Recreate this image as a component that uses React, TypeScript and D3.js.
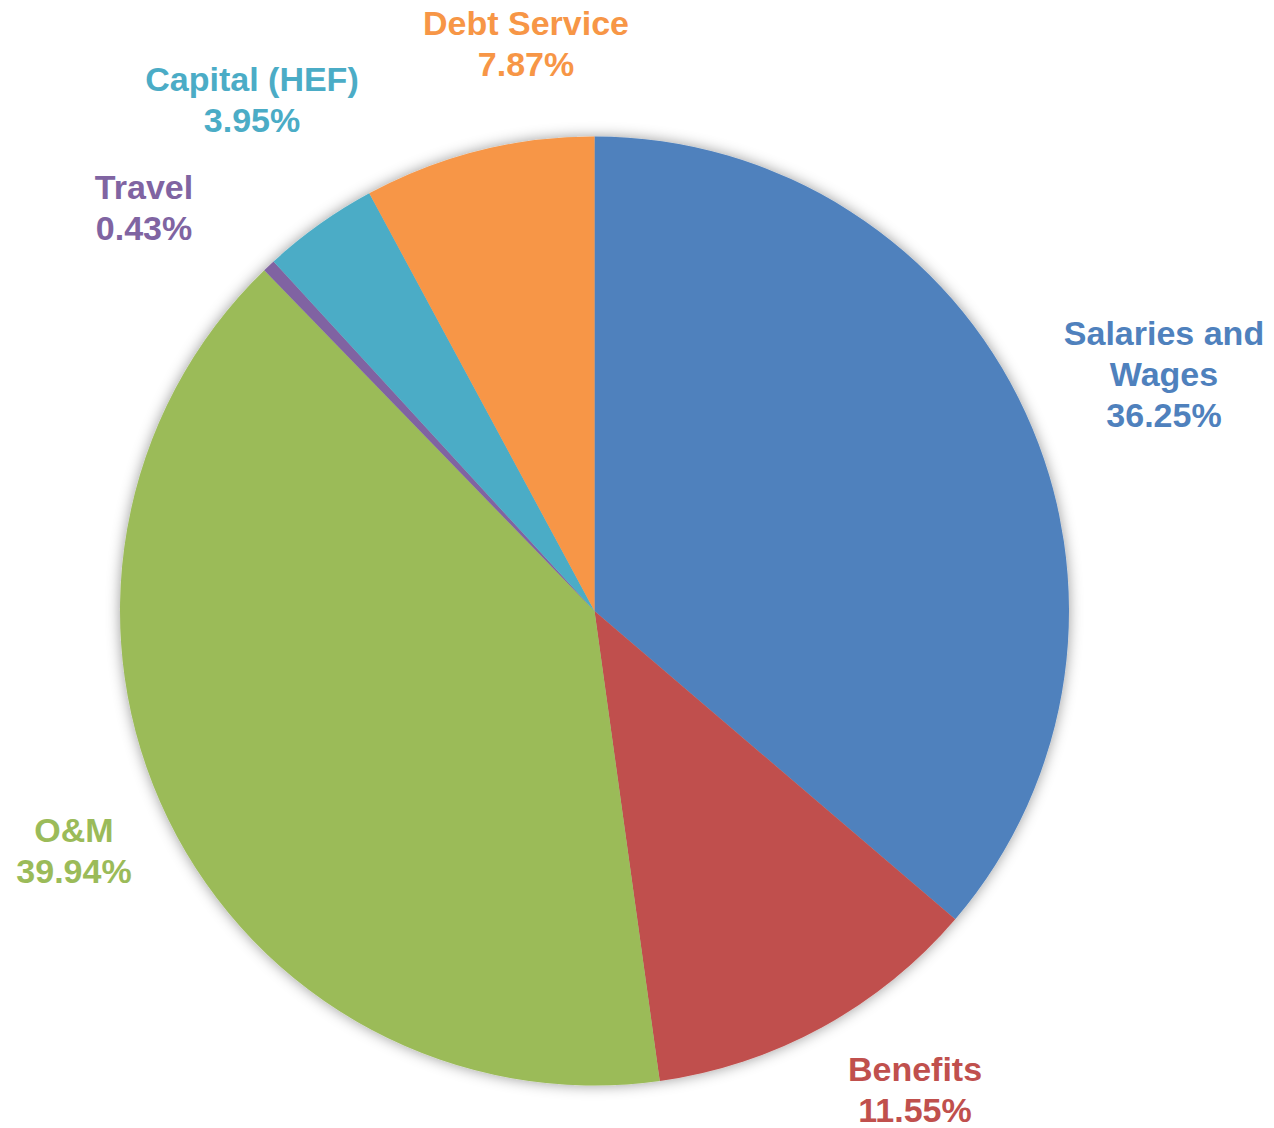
import React from "react";
import * as d3 from "d3";

const categories = ["Salaries and Wages", "Benefits", "O&M", "Travel", "Capital (HEF)", "Debt Service"];
const shares = [36.25, 11.55, 39.94, 0.43, 3.95, 7.87];
const labelLines = [["Salaries and", "Wages"], ["Benefits"], ["O&M"], ["Travel"], ["Capital (HEF)"], ["Debt Service"]];
const sliceColors = ["#4F81BD", "#C0504D", "#9BBB59", "#8064A2", "#4BACC6", "#F79646"];

// label anchor layout (center x, first baseline y), separate from data
const labelAnchors: [number, number][] = [
  [1164, 345],
  [915, 1081],
  [74, 842],
  [144, 199],
  [252, 91],
  [526, 35],
];

const W = 1274;
const H = 1128;
const CX = 594.5;
const CY = 611;
const R = 474.5;
const LINE = 41;

export default function App() {
  const data = categories.map((c, i) => ({ name: c, value: shares[i], i }));
  const pie = d3.pie<any>().value((d) => d.value).sort(null).startAngle(0).endAngle(2 * Math.PI);
  const arcs = pie(data);
  const arc = d3.arc<any>().innerRadius(0).outerRadius(R);
  return (
    <svg width={W} height={H} style={{ position: "absolute", left: 0, top: 0, display: "block" }}>
      <defs>
        <filter id="sh" x="-10%" y="-10%" width="120%" height="120%">
          <feDropShadow dx="0" dy="0" stdDeviation="7" floodColor="#000" floodOpacity="0.4" />
        </filter>
      </defs>
      <g transform={`translate(${CX},${CY})`} filter="url(#sh)">
        {arcs.map((a, i) => (
          <path key={i} d={arc(a) as string} fill={sliceColors[i]} />
        ))}
      </g>
      {arcs.map((a, i) => {
        const [x, y] = labelAnchors[i];
        const lines = [...labelLines[i], `${shares[i].toFixed(2)}%`];
        return (
          <text
            key={i}
            x={x}
            y={y}
            textAnchor="middle"
            fill={sliceColors[i]}
            fontFamily="'Liberation Sans', Arial, sans-serif"
            fontWeight="bold"
            fontSize={34}
          >
            {lines.map((l, j) => (
              <tspan key={j} x={x} y={y + j * LINE}>
                {l}
              </tspan>
            ))}
          </text>
        );
      })}
    </svg>
  );
}
